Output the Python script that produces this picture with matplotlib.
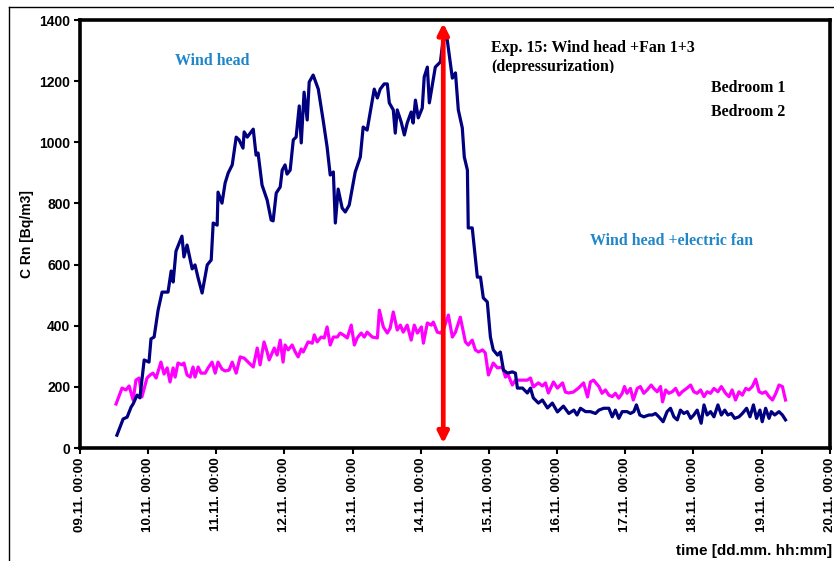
import matplotlib
matplotlib.use("Agg")
import matplotlib.pyplot as plt
from matplotlib.lines import Line2D
from matplotlib.transforms import Bbox, TransformedBbox

# Radon concentration, Exp. 15 -- hours counted from 09.11. 00:00
bedroom1_hours = [
    13.0, 15.2, 16.6, 18.0, 18.7, 20.1, 21.1, 22.6, 24.3, 25.0, 26.1, 27.5,
    28.9, 31.0, 32.1, 32.8, 33.8, 35.9, 36.6, 37.7, 39.5, 40.5, 41.6, 43.0,
    44.8, 46.2, 46.9, 48.3, 48.6, 50.0, 51.1, 52.2, 53.6, 55.0, 56.0, 57.4,
    57.8, 58.9, 61.0, 62.0, 62.7, 64.1, 65.9, 67.3, 68.0, 69.1, 70.5, 71.2,
    72.2, 72.9, 74.0, 75.1, 76.1, 77.2, 77.9, 78.9, 80.0, 80.7, 82.1, 83.9,
    85.6, 87.0, 88.1, 89.2, 89.9, 90.9, 92.3, 93.4, 94.8, 96.9, 98.7, 99.7,
    101.1, 102.2, 103.6, 104.7, 105.7, 107.1, 108.2, 108.9, 110.3, 111.0,
    111.7, 113.1, 114.2, 115.2, 116.6, 117.3, 118.1, 119.1, 120.5, 121.2,
    122.3, 123.0, 125.1, 126.9, 127.9, 129.3, 131.1, 132.2, 133.2, 134.6,
    135.3, 136.4, 136.7, 138.1, 139.9, 141.0, 142.0, 143.4, 144.5, 145.5,
    147.0, 148.0, 149.1, 150.5, 152.2, 153.3, 154.0, 155.8, 157.5, 158.6,
    159.6, 161.4, 162.8, 164.6, 166.3, 168.1, 170.2, 172.1, 173.9, 175.0,
    176.2, 178.0, 179.7, 181.5, 182.7, 184.4, 186.2, 187.4, 188.5, 189.7,
    190.9, 192.6, 193.8, 195.0, 195.9, 197.1, 198.5, 200.3, 201.5, 202.6,
    203.8, 205.3, 206.7, 207.9, 209.1, 210.3, 211.4, 212.6, 213.8, 215.0,
    216.1, 217.3, 218.7, 219.7, 220.8, 222.0, 223.2, 224.6, 225.8, 227.0,
    228.1, 229.3, 230.5, 232.0, 233.2, 234.7, 235.9, 237.1, 238.2, 239.4,
    240.2, 241.4, 242.6, 243.4, 244.6, 246.1, 247.3, 248.4,
]
bedroom1_conc = [
    42, 95, 101, 134, 144, 173, 164, 288, 281, 357, 363, 451,
    510, 510, 579, 543, 644, 693, 625, 664, 586, 599, 556, 507,
    599, 615, 736, 729, 837, 801, 867, 900, 926, 1017, 1008, 981,
    1034, 1017, 1043, 958, 965, 860, 811, 746, 743, 834, 854, 909,
    926, 896, 909, 1008, 1017, 1119, 998, 1164, 1073, 1197, 1220, 1174,
    1073, 985, 893, 903, 736, 847, 785, 772, 795, 903, 952, 1050,
    1040, 1099, 1174, 1145, 1174, 1191, 1191, 1129, 1106, 1030,
    1106, 1066, 1024, 1063, 1099, 1063, 1138, 1080, 1112, 1214,
    1246, 1129, 1246, 1263, 1341, 1335, 1210, 1227, 1106, 1047,
    952, 909, 720, 720, 559, 559, 491, 478, 363, 321,
    304, 314, 255, 245, 249, 245, 196, 196, 180, 196,
    164, 147, 157, 131, 147, 118, 137, 113, 124, 108,
    130, 119, 119, 113, 124, 130, 130, 102, 124, 97,
    119, 119, 113, 119, 141, 108, 102, 108, 108, 113,
    102, 86, 119, 130, 102, 92, 124, 113, 119, 97,
    108, 124, 81, 141, 108, 119, 102, 141, 108, 124,
    108, 113, 97, 102, 113, 130, 102, 141, 97, 124,
    86, 130, 97, 119, 108, 119, 108, 92,
]

bedroom2_hours = [
    12.7, 14.8, 16.2, 17.3, 18.7, 19.7, 20.8, 21.8, 23.6, 24.7, 25.7, 26.8,
    28.5, 29.6, 30.7, 31.7, 32.8, 33.5, 34.5, 35.9, 36.6, 37.7, 38.8, 39.8,
    40.5, 41.6, 42.6, 44.1, 45.1, 46.5, 47.6, 48.6, 50.0, 51.1, 52.5, 53.6,
    55.0, 56.4, 57.8, 59.2, 61.0, 62.4, 63.4, 64.8, 65.9, 66.6, 68.4, 69.4,
    70.5, 71.5, 72.2, 73.3, 74.7, 75.8, 76.8, 77.9, 78.6, 80.3, 81.8, 82.5,
    83.5, 84.9, 86.0, 87.0, 88.1, 89.2, 90.6, 91.6, 92.7, 94.1, 95.5, 96.6,
    97.6, 99.0, 100.1, 101.1, 102.9, 104.7, 105.4, 106.8, 108.2, 109.2,
    110.3, 111.7, 112.8, 113.8, 115.2, 116.6, 117.7, 118.8, 120.2, 120.9,
    122.3, 123.7, 124.4, 125.8, 126.9, 127.9, 129.7, 131.1, 132.2, 133.9,
    135.7, 136.7, 138.1, 139.2, 140.3, 141.7, 142.7, 143.8, 145.5, 147.0,
    148.7, 149.8, 150.8, 152.2, 153.3, 154.4, 157.5, 158.6, 159.6, 161.4,
    162.8, 163.9, 164.9, 166.7, 168.1, 169.9, 170.9, 172.0, 173.7, 175.5,
    177.3, 178.7, 179.7, 180.8, 182.7, 183.8, 185.0, 186.2, 187.4, 188.5,
    189.7, 190.9, 191.7, 192.6, 193.8, 194.8, 196.2, 197.3, 198.5, 199.7,
    201.1, 202.0, 203.2, 204.4, 205.1, 206.2, 207.3, 208.5, 209.7, 210.9,
    212.0, 213.6, 215.0, 216.1, 217.3, 218.5, 219.7, 220.8, 222.0, 223.2,
    224.6, 225.8, 227.3, 228.5, 229.6, 230.8, 232.0, 233.2, 234.4, 235.5,
    236.7, 237.9, 239.1, 240.2, 241.4, 242.6, 243.8, 245.0, 246.1, 247.3,
    248.4,
]
bedroom2_conc = [
    144, 196, 190, 203, 157, 222, 229, 167, 229, 239, 245, 229,
    281, 242, 262, 216, 262, 232, 278, 272, 278, 239, 232, 265,
    232, 265, 245, 245, 262, 281, 245, 281, 258, 252, 255, 281,
    245, 298, 294, 281, 265, 327, 272, 347, 314, 288, 327, 304,
    353, 281, 337, 321, 337, 314, 298, 324, 314, 347, 343, 370,
    347, 363, 360, 396, 337, 363, 363, 376, 370, 360, 402, 337,
    360, 376, 363, 379, 363, 360, 451, 396, 376, 392,
    445, 386, 402, 379, 402, 353, 402, 376, 396, 343,
    409, 402, 412, 379, 376, 386, 435, 363, 379, 428,
    347, 337, 353, 321, 314, 321, 311, 239, 278, 262,
    265, 232, 239, 206, 222, 222, 222, 229, 200, 213,
    203, 213, 180, 216, 196, 213, 183, 180, 183, 196,
    213, 167, 216, 222, 201, 179, 190, 173, 168, 179,
    163, 179, 201, 179, 195, 157, 195, 201, 179, 190,
    206, 195, 184, 201, 151, 190, 179, 184, 195, 173,
    184, 195, 206, 184, 179, 190, 168, 184, 179, 195,
    184, 201, 179, 168, 190, 157, 184, 173, 195, 190,
    201, 225, 184, 179, 184, 168, 157, 179, 206, 201,
    157,
]

day_ticks = list(range(0, 265, 24))
day_labels = [f"{9 + i:02d}.11. 00:00" for i in range(len(day_ticks))]

fan_start = 127.9          # switch to wind head + fan 1+3
arrow_span = (15, 1390)

sans = ["Liberation Sans", "DejaVu Sans"]
serif = ["Liberation Serif", "DejaVu Serif"]
note_blue = "#1f86c9"
note_size = 11.4

fig = plt.figure(figsize=(8.34, 5.61), dpi=100)
ax = fig.add_axes([0.0959, 0.2014, 0.8991, 0.7629])

ax.plot(bedroom1_hours, bedroom1_conc, color="#000080", lw=2.3, zorder=3)
ax.plot(bedroom2_hours, bedroom2_conc, color="#ff00ff", lw=2.3, zorder=2)

ax.annotate("", xy=(fan_start, arrow_span[1]), xytext=(fan_start, arrow_span[0]),
            arrowprops=dict(arrowstyle="<|-|>", color="#ff0000", lw=3.4,
                            mutation_scale=16, shrinkA=0, shrinkB=0),
            zorder=4)

ax.set_xlim(0, 264)
ax.set_ylim(0, 1400)
ax.set_yticks(range(0, 1401, 200))
ax.set_xticks(day_ticks)
ax.set_xticklabels(day_labels, rotation=90, fontsize=9.6, fontweight="bold",
                   family=sans)
for lbl in ax.get_yticklabels():
    lbl.set_fontsize(10)
    lbl.set_fontweight("bold")
    lbl.set_family(sans)

for sp in ax.spines.values():
    sp.set_linewidth(2.6)
ax.tick_params(axis="both", direction="out", length=4, width=1.5, pad=3)

ax.set_ylabel("C Rn [Bq/m3]", fontsize=10, fontweight="bold", family=sans,
              labelpad=4)
fig.text(0.998, 0.006, "time [dd.mm. hh:mm]", ha="right", va="bottom",
         fontsize=11, fontweight="bold", family=sans)

# annotations inside the plot
ax.text(33.5, 1266, "Wind head", color=note_blue, fontsize=note_size,
        fontweight="bold", family=serif, va="center")
ax.text(179.7, 677, "Wind head +electric fan", color=note_blue,
        fontsize=note_size, fontweight="bold", family=serif, va="center")
ax.text(144.8, 1308, "Exp. 15: Wind head +Fan 1+3", fontsize=note_size,
        fontweight="bold", family=serif, va="center")
sub = ax.text(144.8, 1246, "(depressurization)", fontsize=note_size,
              fontweight="bold", family=serif, va="center")
# the caption box cuts the second line short
sub.set_clip_box(TransformedBbox(Bbox([[0, 1 - 73 / 561], [1, 1]]),
                                 fig.transFigure))
sub.set_clip_on(True)
ax.text(222, 1178, "Bedroom 1", fontsize=note_size, fontweight="bold",
        family=serif, va="center")
ax.text(222, 1099, "Bedroom 2", fontsize=note_size, fontweight="bold",
        family=serif, va="center")

# outer frame of the chart area
fig.add_artist(Line2D([9 / 834, 1.0], [1 - 7 / 561, 1 - 7 / 561],
                      color="black", lw=1.0, transform=fig.transFigure))
fig.add_artist(Line2D([9 / 834, 9 / 834], [0.0, 1 - 7 / 561],
                      color="black", lw=1.0, transform=fig.transFigure))

fig.savefig("out.png", dpi=100)
